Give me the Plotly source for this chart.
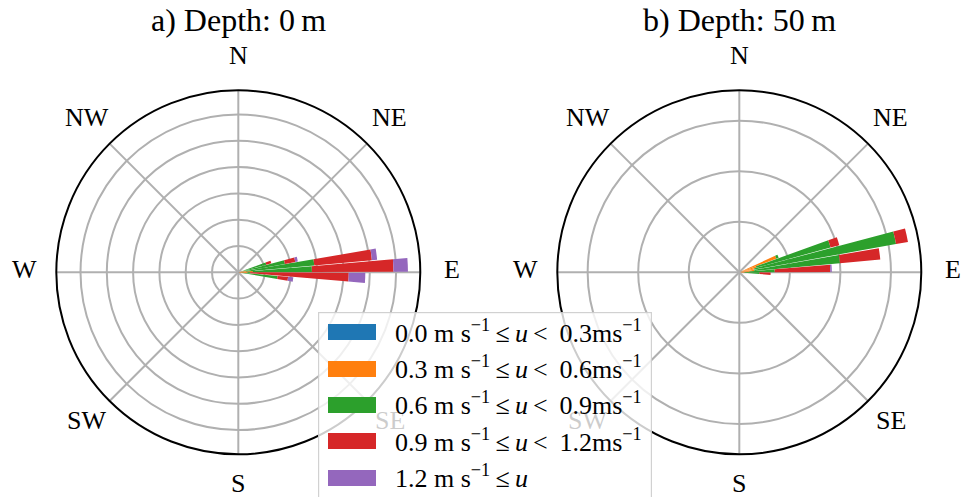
import math
import plotly.graph_objects as go

# Compass labels for the angular axis
direction_labels = ["N", "NE", "E", "SE", "S", "SW", "W", "NW"]
direction_angles = [0, 45, 90, 135, 180, 225, 270, 315]

# Current-speed classes and their colours
speed_labels = [
    "0.0 m s<sup>−1</sup>\u2009≤\u2009<i>u</i>\u2009< \u20090.3ms<sup>−1</sup>",
    "0.3 m s<sup>−1</sup>\u2009≤\u2009<i>u</i>\u2009< \u20090.6ms<sup>−1</sup>",
    "0.6 m s<sup>−1</sup>\u2009≤\u2009<i>u</i>\u2009< \u20090.9ms<sup>−1</sup>",
    "0.9 m s<sup>−1</sup>\u2009≤\u2009<i>u</i>\u2009< \u20091.2ms<sup>−1</sup>",
    "1.2 m s<sup>−1</sup>\u2009≤\u2009<i>u</i>",
]
speed_colors = ["#1f77b4", "#ff7f0e", "#2ca02c", "#d62728", "#9467bd"]

# a) surface (0 m): frequency per direction sector and speed class
sectors_0m = [72.5, 77.5, 82.5, 87.5, 92.5, 97.5]
u00_03_0m = [0.00, 0.02, 0.03, 0.05, 0.04, 0.02]
u03_06_0m = [0.10, 0.18, 0.27, 0.50, 0.31, 0.13]
u06_09_0m = [1.00, 1.60, 2.60, 2.25, 0.10, 1.35]
u09_12_0m = [0.20, 0.40, 2.20, 3.10, 3.75, 0.40]
u12_up_0m = [0.00, 0.10, 0.20, 0.55, 0.63, 0.20]

# b) 50 m depth
sectors_50m = [67.5, 72.5, 77.5, 82.5, 87.5, 92.5]
u00_03_50m = [0.00, 0.02, 0.02, 0.02, 0.01, 0.01]
u03_06_50m = [0.78, 0.33, 0.28, 0.28, 0.19, 0.09]
u06_09_50m = [0.05, 1.52, 2.85, 1.70, 0.50, 0.30]
u09_12_50m = [0.00, 0.18, 0.24, 0.80, 1.10, 0.22]
u12_up_50m = [0.00, 0.00, 0.00, 0.00, 0.03, 0.00]

sector_width = 4.6

panels = [
    ("polar", "a) Depth: 0\u2009m", sectors_0m,
     [u00_03_0m, u03_06_0m, u06_09_0m, u09_12_0m, u12_up_0m], 6.92, 238.3),
    ("polar2", "b) Depth: 50\u2009m", sectors_50m,
     [u00_03_50m, u03_06_50m, u06_09_50m, u09_12_50m, u12_up_50m], 3.6, 739.3),
]

W, H = 963, 497
radius_px = 182
center_y_px = 272.3
label_radius_px = 214
serif = "Liberation Serif, Times New Roman, serif"


def px(x):
    return x / W


def py(y):
    return 1 - y / H


fig = go.Figure()
layout_polars = {}
annotations = []

for subplot, title, sectors, classes, rmax, cx in panels:
    for label, color, values in zip(speed_labels, speed_colors, classes):
        fig.add_trace(go.Barpolar(
            r=values, theta=sectors, width=[sector_width] * len(sectors),
            marker=dict(color=color, line=dict(width=0)),
            name=label, subplot=subplot, showlegend=False,
        ))
    layout_polars[subplot] = dict(
        domain=dict(x=[px(cx - radius_px), px(cx + radius_px)],
                    y=[py(center_y_px + radius_px), py(center_y_px - radius_px)]),
        bgcolor="white",
        barmode="stack",
        angularaxis=dict(
            rotation=90, direction="clockwise",
            tickmode="array", tickvals=direction_angles, ticktext=direction_labels,
            ticks="", showticklabels=False,
            showline=True, linecolor="black", linewidth=2,
            showgrid=True, gridcolor="#b0b0b0", gridwidth=1.5,
        ),
        radialaxis=dict(
            range=[0, rmax], tick0=0, dtick=1,
            showticklabels=False, ticks="", showline=False,
            showgrid=True, gridcolor="#b0b0b0", gridwidth=1.5,
        ),
    )
    annotations.append(dict(
        text=title, x=px(cx), y=py(20), xref="paper", yref="paper",
        xanchor="center", yanchor="middle", showarrow=False,
        font=dict(family=serif, size=32, color="black"),
    ))
    # compass labels placed around the rim
    for name, ang in zip(direction_labels, direction_angles):
        t = math.radians(ang)
        annotations.append(dict(
            text=name,
            x=px(cx + label_radius_px * math.sin(t)),
            y=py(center_y_px - label_radius_px * math.cos(t) - 3),
            xref="paper", yref="paper", xanchor="center", yanchor="middle",
            showarrow=False, font=dict(family=serif, size=26, color="black"),
        ))

# Legend: translucent frame drawn over the polar panels, then swatches and labels
lx0, lx1, ly0 = 318.3, 652.3, 311.7
annotations.append(dict(
    text=" ", x=px(lx0), y=py(ly0), xref="paper", yref="paper",
    xanchor="left", yanchor="top", showarrow=False,
    width=lx1 - lx0 - 2, height=220, borderpad=0, borderwidth=1.2,
    bgcolor="rgba(255,255,255,0.8)", bordercolor="rgba(204,204,204,0.9)",
    font=dict(size=10),
))

row_centers = [332.0, 368.5, 404.7, 441.0, 477.5]
for label, color, yc in zip(speed_labels, speed_colors, row_centers):
    annotations.append(dict(
        text=" ", x=px(328.3), y=py(yc), xref="paper", yref="paper",
        xanchor="left", yanchor="middle", showarrow=False,
        width=48, height=16, borderpad=0, borderwidth=0,
        bgcolor=color, font=dict(size=8),
    ))
    annotations.append(dict(
        text=label, x=px(393), y=py(yc - 1), xref="paper", yref="paper",
        xanchor="left", yanchor="middle", showarrow=False,
        font=dict(family=serif, size=26, color="black"),
    ))

fig.update_layout(
    width=W, height=H,
    margin=dict(l=0, r=0, t=0, b=0),
    paper_bgcolor="white",
    showlegend=False,
    annotations=annotations,
    **layout_polars,
)

fig.write_html("out.html")
